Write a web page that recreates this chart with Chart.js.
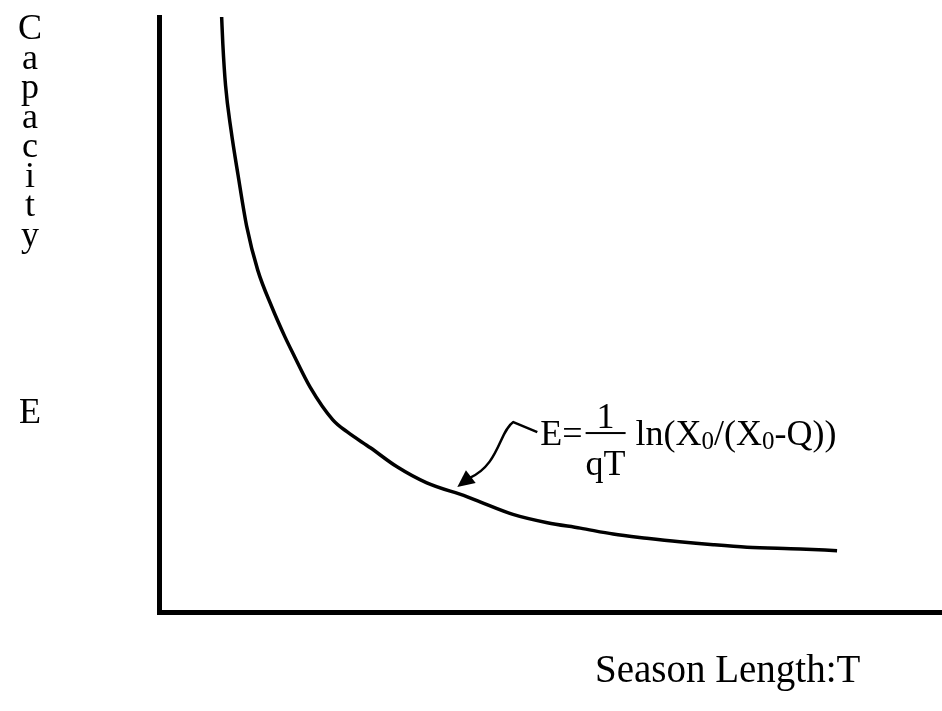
<!DOCTYPE html>
<html>
<head>
<meta charset="utf-8">
<title>Capacity vs Season Length</title>
<script src="https://cdn.jsdelivr.net/npm/chart.js@4/dist/chart.umd.min.js"></script>
<style>
    html, body { margin: 0; padding: 0; background: #fff; }
    #chart { display: block; }
</style>
</head>
<body>
<canvas id="chart" width="942" height="711"></canvas>
<script>
// season length T and the capacity E needed to take the quota in that time
const seasonLength = [8.0, 8.15, 8.5, 9.2, 10.1, 11.2, 12.6, 14.4, 16.1, 17.1, 19.3, 22.2, 24.0, 27.0,
    30.4, 34.2, 39.3, 41.0, 45.2, 49.6, 53.8, 58.0, 62.3, 66.5, 70.8, 75.1, 81.9, 86.6];
const capacity = [100, 95.5, 88.5, 81.0, 73.4, 64.8, 57.5, 51.3, 46.2, 43.5, 37.8, 32.3, 30.3, 27.6,
    24.4, 21.7, 19.4, 18.5, 16.4, 15.0, 14.1, 13.1, 12.4, 11.8, 11.3, 10.9, 10.6, 10.3];

const yTitleLetters = ['C', 'a', 'p', 'a', 'c', 'i', 't', 'y', '', '', '', '', '', 'E'];
const xTitle = 'Season Length:T';

// where the formula's arrow points on the curve
const arrowTarget = { x: 38.1, y: 21.0 };

const serif = "'Liberation Serif', 'Times New Roman', serif";

const labelsPlugin = {
    id: 'labels',
    afterDraw(chart) {
        const ctx = chart.ctx;
        const xs = chart.scales.x;
        const ys = chart.scales.y;
        ctx.save();
        ctx.fillStyle = '#000';
        ctx.strokeStyle = '#000';

        // stacked letters for the vertical axis title
        ctx.font = '36px ' + serif;
        ctx.textAlign = 'center';
        ctx.textBaseline = 'alphabetic';
        yTitleLetters.forEach((ch, i) => {
            if (ch) ctx.fillText(ch, 30, 39 + i * 29.5);
        });

        // horizontal axis title
        ctx.font = '39px ' + serif;
        ctx.textAlign = 'left';
        ctx.fillText(xTitle, 595, 682);

        // arrow from the formula to the curve
        const tx = xs.getPixelForValue(arrowTarget.x);
        const ty = ys.getPixelForValue(arrowTarget.y);
        ctx.lineWidth = 2.5;
        ctx.lineJoin = 'round';
        ctx.beginPath();
        ctx.moveTo(tx + 80, ty - 55);
        ctx.lineTo(tx + 56, ty - 65);
        ctx.bezierCurveTo(tx + 42, ty - 56, tx + 42, ty - 22, tx + 12, ty - 9);
        ctx.stroke();

        const dx = -13, dy = 10;
        const len = Math.hypot(dx, dy);
        const ux = dx / len, uy = dy / len;
        const bx = tx - ux * 17, by = ty - uy * 17;
        ctx.beginPath();
        ctx.moveTo(tx, ty);
        ctx.lineTo(bx - uy * 8, by + ux * 8);
        ctx.lineTo(bx + uy * 8, by - ux * 8);
        ctx.closePath();
        ctx.fill();

        // E = 1/(qT) ln(X0/(X0-Q))
        const base = ty - 42;
        let x = tx + 83;
        ctx.font = '36px ' + serif;
        ctx.textAlign = 'left';
        ctx.fillText('E=', x, base);
        x += ctx.measureText('E=').width + 3;

        const fracW = ctx.measureText('qT').width;
        const mid = x + fracW / 2;
        ctx.fillRect(x, base - 13, fracW, 2);
        ctx.textAlign = 'center';
        ctx.fillText('1', mid, base - 17);
        ctx.fillText('qT', mid, base + 30);
        x += fracW + 10;

        ctx.textAlign = 'left';
        const parts = [
            ['ln(X', false], ['0', true], ['/(X', false], ['0', true], ['-Q))', false]
        ];
        parts.forEach(([t, sub]) => {
            ctx.font = (sub ? '25px ' : '36px ') + serif;
            ctx.fillText(t, x, sub ? base + 4 : base);
            x += ctx.measureText(t).width;
        });

        ctx.restore();
    }
};

new Chart(document.getElementById('chart'), {
    type: 'line',
    data: {
        labels: seasonLength,
        datasets: [{
            data: seasonLength.map((t, i) => ({ x: t, y: capacity[i] })),
            borderColor: '#000',
            borderWidth: 3.5,
            pointRadius: 0,
            fill: false,
            cubicInterpolationMode: 'monotone'
        }]
    },
    options: {
        responsive: false,
        animation: false,
        layout: { padding: { left: 159, right: 0, top: 17, bottom: 99 } },
        plugins: {
            legend: { display: false },
            tooltip: { enabled: false }
        },
        scales: {
            x: {
                type: 'linear',
                min: 0,
                max: 100,
                grid: { display: false, drawTicks: false },
                ticks: { display: false },
                border: { display: true, color: '#000', width: 5 }
            },
            y: {
                type: 'linear',
                min: 0,
                max: 100,
                grid: { display: false, drawTicks: false },
                ticks: { display: false },
                border: { display: true, color: '#000', width: 5 }
            }
        }
    },
    plugins: [labelsPlugin]
});
</script>
</body>
</html>
